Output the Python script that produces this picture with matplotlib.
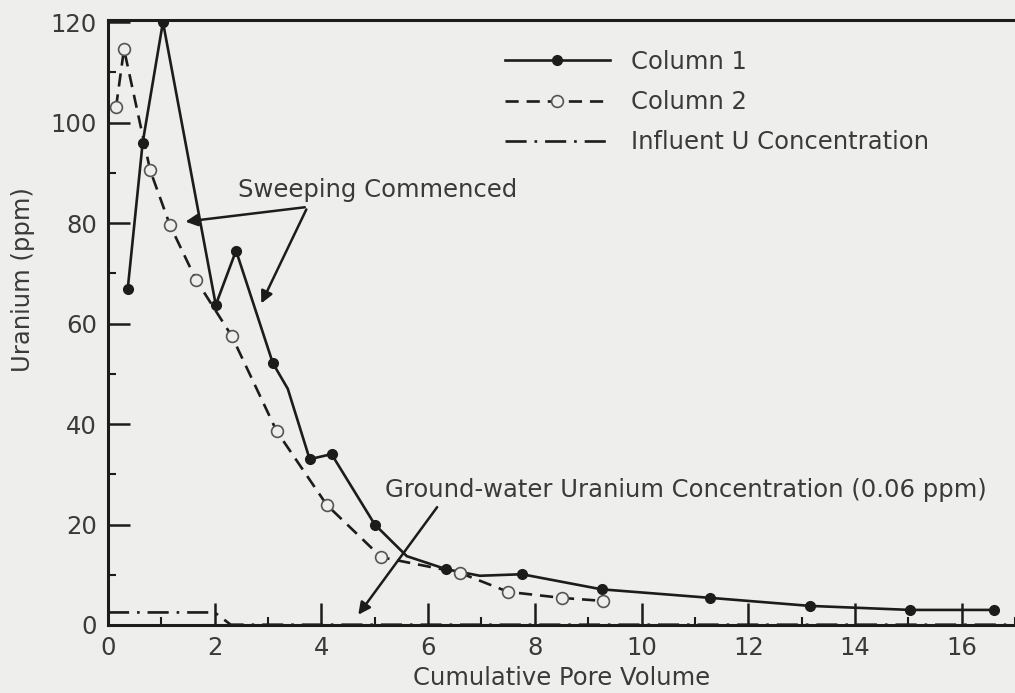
import matplotlib.pyplot as plt
from matplotlib.ticker import MultipleLocator

# ###############
# Data
col1_x = [0.37, 0.65, 1.03, 2.02, 2.40, 3.09, 3.37, 3.78, 4.19, 5.00, 5.60, 6.34, 6.97, 7.76, 9.25, 11.29, 13.16, 15.04, 16.60]
col1_y = [66.9, 96.0, 120.0, 63.7, 74.5, 52.1, 47.0, 33.0, 34.0, 20.0, 13.7, 11.1, 9.8, 10.1, 7.1, 5.4, 3.8, 3.0, 3.0]
col1_marks = [0, 1, 2, 3, 4, 5, 7, 8, 9, 11, 13, 14, 15, 16, 17, 18]   # knots without a dot left out

col2_x = [0.15, 0.30, 0.79, 1.16, 1.65, 2.32, 3.16, 4.10, 5.12, 6.59, 7.50, 8.50, 9.27]
col2_y = [103.0, 114.6, 90.5, 79.6, 68.7, 57.5, 38.6, 23.9, 13.5, 10.4, 6.6, 5.4, 4.8]

infl_x = [0.0, 2.0, 2.3, 17.0]
infl_y = [2.5, 2.5, 0.06, 0.06]

bg = '#eeeeec'
ink = '#1c1c1c'
txt = '#3a3a3a'
fs = 17.5

fig = plt.figure(figsize=(10.15, 6.93), dpi=100, facecolor=bg)
ax = fig.add_axes([108/1015, 68/693, 907/1015, 605/693], facecolor=bg)

ax.plot(col1_x, col1_y, color=ink, lw=1.9, marker='o', ms=7, mfc=ink, mec=ink,
        markevery=col1_marks, label='Column 1')
ax.plot(col2_x, col2_y, color=ink, lw=1.9, ls=(0, (5, 3)), marker='o', ms=8.5,
        mfc=bg, mec='#555555', mew=1.2, label='Column 2')
ax.plot(infl_x, infl_y, color=ink, lw=1.9, ls=(0, (8, 3, 1, 3)), label='Influent U Concentration')

ax.set_xlim(0, 17)
ax.set_ylim(0, 120.4)
ax.xaxis.set_major_locator(MultipleLocator(2))
ax.xaxis.set_minor_locator(MultipleLocator(1))
ax.yaxis.set_major_locator(MultipleLocator(20))
ax.yaxis.set_minor_locator(MultipleLocator(10))
ax.tick_params(which='major', direction='in', length=16, width=1.8, color=ink,
               labelsize=fs, labelcolor=txt, pad=8)
ax.tick_params(which='minor', direction='in', length=6, width=1.5, color=ink)

ax.spines['right'].set_visible(False)
for s in ['left', 'bottom', 'top']:
    ax.spines[s].set_linewidth(2.2)
    ax.spines[s].set_color(ink)

ax.set_xlabel('Cumulative Pore Volume', fontsize=fs, color=txt, labelpad=4)
fig.text(23/1015, 1 - 280/693, 'Uranium (ppm)', fontsize=fs, color=txt,
         rotation=90, ha='center', va='center')

# annotations
ax.text(2.43, 86.6, 'Sweeping Commenced', fontsize=fs, color=txt, ha='left', va='center')
arr = dict(arrowstyle='-|>', color=ink, lw=1.8, mutation_scale=18)
ax.annotate('', xy=(1.40, 80.2), xytext=(3.74, 83.2), arrowprops=arr)
ax.annotate('', xy=(2.85, 63.5), xytext=(3.74, 83.2), arrowprops=arr)

ax.text(5.19, 26.9, 'Ground-water Uranium Concentration (0.06 ppm)', fontsize=fs,
        color=txt, ha='left', va='center')
ax.annotate('', xy=(4.66, 1.6), xytext=(6.2, 23.9), arrowprops=arr)

leg = ax.legend(loc='upper left', bbox_to_anchor=(505/1015, 1 - 50/693),
                bbox_transform=fig.transFigure, frameon=False, fontsize=fs,
                handlelength=4.3, handletextpad=0.9, labelspacing=0.66,
                borderpad=0, borderaxespad=0, numpoints=1)
for t in leg.get_texts():
    t.set_color(txt)

fig.savefig('out.png', dpi=100, facecolor=bg)
